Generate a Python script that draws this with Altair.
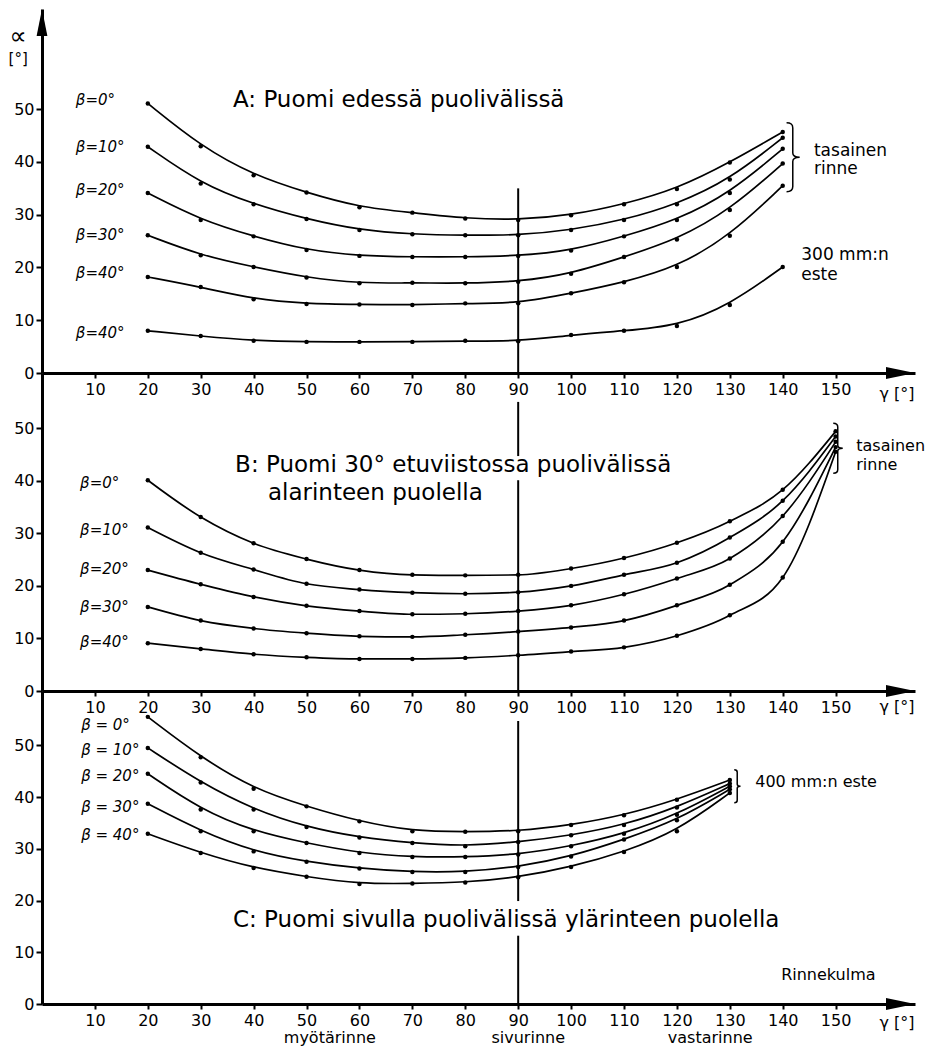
import altair as alt
import pandas as pd

FONT = "DejaVu Sans"

# ---------------- data ----------------
gamma_A = [20, 30, 40, 50, 60, 70, 80, 90, 100, 110, 120, 130, 140]
A_b0 = [51.1, 43.0, 37.5, 34.2, 31.4, 30.4, 29.3, 29.0, 29.9, 32.0, 34.9, 39.9, 45.7]
A_b10 = [42.9, 35.9, 32.0, 29.2, 27.1, 26.3, 26.1, 26.1, 27.1, 29.0, 32.0, 36.7, 44.6]
A_b20 = [34.1, 29.0, 25.9, 23.3, 22.2, 22.0, 22.0, 22.2, 23.2, 25.9, 29.0, 34.1, 42.5]
A_b30 = [26.1, 22.3, 20.1, 18.1, 17.0, 17.1, 17.0, 17.3, 18.8, 22.0, 25.3, 30.9, 39.7]
A_b40 = [18.2, 16.3, 14.0, 13.1, 13.0, 12.9, 13.2, 13.2, 15.1, 17.2, 20.1, 26.0, 35.5]
A_b40_este = [8.0, 7.0, 6.1, 5.9, 5.9, 5.9, 6.1, 6.0, 7.2, 8.0, 8.9, 12.9, 20.1]

gamma_B = [20, 30, 40, 50, 60, 70, 80, 90, 100, 110, 120, 130, 140, 150]
B_b0 = [40.1, 33.1, 28.1, 25.1, 23.0, 22.1, 22.0, 22.1, 23.3, 25.3, 28.2, 32.3, 38.3, 49.4]
B_b10 = [31.1, 26.3, 23.1, 20.4, 19.3, 18.7, 18.5, 18.8, 20.0, 22.1, 24.4, 29.2, 36.2, 48.4]
B_b20 = [23.0, 20.3, 17.9, 16.2, 15.2, 14.6, 14.7, 15.2, 16.3, 18.4, 21.4, 25.2, 33.3, 47.4]
B_b30 = [16.0, 13.4, 11.9, 11.0, 10.4, 10.3, 10.7, 11.3, 12.1, 13.4, 16.3, 20.2, 28.4, 46.4]
B_b40 = [9.1, 8.0, 7.0, 6.4, 6.1, 6.1, 6.3, 6.8, 7.5, 8.3, 10.5, 14.4, 21.6, 45.5]

gamma_C = [20, 30, 40, 50, 60, 70, 80, 90, 100, 110, 120, 130]
C_b0 = [55.5, 47.7, 41.6, 38.2, 35.3, 33.4, 33.3, 33.4, 34.6, 36.5, 39.5, 43.3]
C_b10 = [49.5, 42.8, 37.6, 34.2, 32.2, 31.1, 30.5, 31.3, 32.6, 34.6, 38.0, 42.6]
C_b20 = [44.5, 37.6, 33.4, 31.1, 29.2, 28.4, 28.4, 28.9, 30.5, 32.9, 36.6, 42.1]
C_b30 = [38.7, 33.4, 29.5, 27.5, 26.2, 25.5, 25.5, 26.5, 28.5, 31.8, 35.5, 41.5]
C_b40 = [32.9, 29.2, 26.3, 24.6, 23.2, 23.3, 23.5, 24.5, 26.5, 29.4, 33.4, 40.8]

x_ticks = [10, 20, 30, 40, 50, 60, 70, 80, 90, 100, 110, 120, 130, 140, 150]
y_ticks = [0, 10, 20, 30, 40, 50]

# curve labels (text, y)
beta_A = ["β=0°", "β=10°", "β=20°", "β=30°", "β=40°", "β=40°"]
beta_A_y = [51.8, 42.9, 34.6, 26.2, 18.9, 7.5]
beta_B = ["β=0°", "β=10°", "β=20°", "β=30°", "β=40°"]
beta_B_y = [39.6, 30.7, 23.3, 15.9, 9.4]
beta_C = ["β = 0°", "β = 10°", "β = 20°", "β = 30°", "β = 40°"]
beta_C_y = [54.0, 49.0, 44.0, 38.0, 32.7]

XMAX = 165
W = 873
H_A, YMAX_A = 364, 69.0
H_B, YMAX_B = 318, 60.5
H_C, YMAX_C = 313, 60.5

UP_ARROW = "M0,-1L0.4,1L-0.4,1Z"
RIGHT_ARROW = "M1,0L-1,-0.42L-1,0.42Z"
BRACE = "M-0.18,-1Q0,-1,0,-0.85L0,-0.12Q0,0,0.2,0Q0,0,0,0.12L0,0.85Q0,1,-0.18,1"


def curves(gamma, series):
    rows = []
    for sid, vals in series:
        for g, a in zip(gamma, vals):
            rows.append({"g": g, "a": a, "s": sid})
    return pd.DataFrame(rows)


def enc_x():
    return alt.X(
        "g:Q",
        scale=alt.Scale(domain=[0, XMAX], nice=False, zero=False),
        axis=alt.Axis(
            values=x_ticks, title=None, grid=False, domainColor="black",
            domainWidth=3, tickColor="black", tickWidth=2, tickSize=5,
            labelFont=FONT, labelFontSize=16, labelColor="black",
            labelPadding=3, labelFlush=False, labelOverlap=False,
        ),
    )


def enc_y(ymax):
    return alt.Y(
        "a:Q",
        scale=alt.Scale(domain=[0, ymax], nice=False, zero=False),
        axis=alt.Axis(
            values=y_ticks, title=None, grid=False, domainColor="black",
            domainWidth=3, tickColor="black", tickWidth=2, tickSize=6,
            labelFont=FONT, labelFontSize=16, labelColor="black",
            labelPadding=2, labelOverlap=False,
        ),
    )


def text_layer(df, ymax, size, align="left", style="normal", baseline="middle"):
    return alt.Chart(df).mark_text(
        font=FONT, fontSize=size, align=align, baseline=baseline,
        fontStyle=style, color="black",
    ).encode(x=enc_x(), y=enc_y(ymax), text="t:N")


def panel(cdf, ymax, height, rules, texts, braces, interp, up_arrow=False):
    layers = []
    rdf = pd.DataFrame(rules, columns=["g", "a", "a2"])
    layers.append(
        alt.Chart(rdf).mark_rule(color="black", strokeWidth=2).encode(
            x=enc_x(), y=enc_y(ymax), y2="a2:Q"
        )
    )
    layers.append(
        alt.Chart(cdf).mark_line(
            interpolate=interp, color="black", strokeWidth=1.7
        ).encode(x=enc_x(), y=enc_y(ymax), detail="s:N")
    )
    layers.append(
        alt.Chart(cdf).mark_circle(size=20, color="black", opacity=1).encode(
            x=enc_x(), y=enc_y(ymax)
        )
    )
    for df, size, align, style in texts:
        layers.append(text_layer(df, ymax, size, align, style))
    if braces:
        bdf = pd.DataFrame(braces, columns=["g", "a", "sz"])
        layers.append(
            alt.Chart(bdf).mark_point(
                shape=BRACE, filled=False, color="black", strokeWidth=1.5, opacity=1
            ).encode(x=enc_x(), y=enc_y(ymax), size=alt.Size("sz:Q", scale=None))
        )
    adf = pd.DataFrame([{"g": XMAX - 14.5 / (W / XMAX), "a": 0}])
    layers.append(
        alt.Chart(adf).mark_point(
            shape=RIGHT_ARROW, filled=True, color="black", size=841, opacity=1
        ).encode(x=enc_x(), y=enc_y(ymax))
    )
    if up_arrow:
        udf = pd.DataFrame([{"g": 0, "a": ymax - 13.5 / (height / ymax)}])
        layers.append(
            alt.Chart(udf).mark_point(
                shape=UP_ARROW, filled=True, color="black", size=729, opacity=1
            ).encode(x=enc_x(), y=enc_y(ymax))
        )
    return alt.layer(*layers).properties(width=W, height=height)


def tdf(texts, xs, ys):
    return pd.DataFrame({"t": texts, "g": xs, "a": ys})


# ---------------- panel A ----------------
cA = curves(gamma_A, [("b0", A_b0), ("b10", A_b10), ("b20", A_b20),
                      ("b30", A_b30), ("b40", A_b40), ("b40e", A_b40_este)])
textsA = [
    (tdf(beta_A, [6.4] * 6, beta_A_y), 15, "left", "italic"),
    (tdf(["A: Puomi edessä puolivälissä"], [36.1], [51.8]), 23, "left", "normal"),
    (tdf(["tasainen", "rinne"], [145.9, 145.9], [42.1, 38.6]), 17, "left", "normal"),
    (tdf(["300 mm:n", "este"], [143.5, 143.5], [22.3, 18.6]), 17, "left", "normal"),
    (tdf(["∝"], [-4.5], [63.6]), 24, "center", "normal"),
    (tdf(["[°]"], [-4.5], [59.6]), 15, "center", "normal"),
    (tdf(["γ [°]"], [161.6], [-4.0]), 16, "center", "normal"),
]
pA = panel(cA, YMAX_A, H_A, [(90, 0, 35)], textsA, [(141.9, 40.9, 4761)],
           "basis", up_arrow=True)

# ---------------- panel B ----------------
cB = curves(gamma_B, [("b0", B_b0), ("b10", B_b10), ("b20", B_b20),
                      ("b30", B_b30), ("b40", B_b40)])
textsB = [
    (tdf(beta_B, [7.2] * 5, beta_B_y), 15, "left", "italic"),
    (tdf(["B: Puomi 30° etuviistossa puolivälissä", "alarinteen puolella"],
         [36.5, 42.7], [43.0, 37.7]), 23, "left", "normal"),
    (tdf(["tasainen", "rinne"], [153.9, 153.9], [46.7, 43.0]), 16, "left", "normal"),
    (tdf(["γ [°]"], [161.6], [-3.0]), 16, "center", "normal"),
]
pB = panel(cB, YMAX_B, H_B, [(90, 0, 40.1), (90, 44.7, 55.0)], textsB,
           [(150.4, 46.2, 2500)], "monotone")

# ---------------- panel C ----------------
cC = curves(gamma_C, [("b0", C_b0), ("b10", C_b10), ("b20", C_b20),
                      ("b30", C_b30), ("b40", C_b40)])
textsC = [
    (tdf(beta_C, [7.4] * 5, beta_C_y), 15, "left", "italic"),
    (tdf(["C: Puomi sivulla puolivälissä ylärinteen puolella"], [36.1], [16.2]),
     23, "left", "normal"),
    (tdf(["400 mm:n este", "Rinnekulma"], [134.8, 139.7], [42.9, 5.6]), 16, "left", "normal"),
    (tdf(["myötärinne", "sivurinne", "vastarinne"], [54.4, 91.9, 126.3],
         [-6.6, -6.6, -6.6]), 16, "center", "normal"),
    (tdf(["γ [°]"], [161.6], [-3.7]), 16, "center", "normal"),
]
pC = panel(cC, YMAX_C, H_C, [(90, 0, 13.2), (90, 19.9, 54.7)], textsC,
           [(131.4, 42.1, 1089)], "basis")

chart = (
    alt.vconcat(pA, pB, pC, spacing=0, bounds="flush")
    .resolve_scale(y="independent")
    .properties(padding={"left": 0, "top": 0, "right": 0, "bottom": 0},
                background="white")
    .configure_view(stroke=None)
)

chart.save("out.html", embed_options={"renderer": "svg", "actions": False})
